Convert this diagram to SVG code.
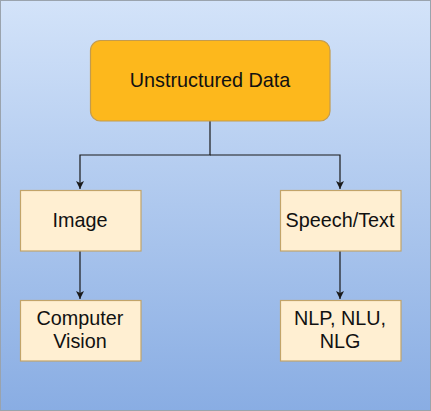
<svg xmlns="http://www.w3.org/2000/svg" width="431" height="411" viewBox="0 0 431 411">
  <defs>
    <linearGradient id="bg" x1="0" y1="0" x2="0" y2="1">
      <stop offset="0" stop-color="#d3e3f9"/>
      <stop offset="1" stop-color="#89ade3"/>
    </linearGradient>
    <marker id="arr" markerWidth="9" markerHeight="9" refX="8" refY="4.5" orient="auto" markerUnits="userSpaceOnUse">
      <path d="M0,0.5 L8,4.5 L0,8.5 L2,4.5 Z" fill="#1a1a1a"/>
    </marker>
  </defs>
  <style>
    .lbl { font-family: "Liberation Sans", Arial, sans-serif; font-size: 19.8px; fill: #111; text-anchor: middle; }
    .child { fill: #ffefd2; stroke: #c2a46a; stroke-width: 1.2; }
    .root { fill: #fdb81c; stroke: #c39b4d; stroke-width: 1.2; }
    .conn { fill: none; stroke: #1a1a1a; stroke-width: 1.2; }
  </style>
  <rect x="0.5" y="0.5" width="430" height="410" fill="url(#bg)" stroke="#9aa3ad" stroke-width="1"/>
  <g id="connectors">
    <path class="conn" d="M210,121 V155 H80 V189" marker-end="url(#arr)"/>
    <path class="conn" d="M210,155 H340 V189" marker-end="url(#arr)"/>
    <path class="conn" d="M80,251 V299" marker-end="url(#arr)"/>
    <path class="conn" d="M340,251 V299" marker-end="url(#arr)"/>
  </g>
  <g id="unstructured">
    <rect class="root" x="90.5" y="40.5" width="239.5" height="80.5" rx="10"/>
    <text class="lbl" x="210" y="87">Unstructured Data</text>
  </g>
  <g id="image">
    <rect class="child" x="20.5" y="190.5" width="120.5" height="60.5"/>
    <text class="lbl" x="80" y="227">Image</text>
  </g>
  <g id="speech">
    <rect class="child" x="280.5" y="190.5" width="120.5" height="60.5"/>
    <text class="lbl" x="340" y="227">Speech/Text</text>
  </g>
  <g id="cv">
    <rect class="child" x="20.5" y="300.5" width="120.5" height="60.5"/>
    <text class="lbl" x="80" y="325">Computer</text>
    <text class="lbl" x="80" y="348">Vision</text>
  </g>
  <g id="nlp">
    <rect class="child" x="280.5" y="300.5" width="120.5" height="60.5"/>
    <text class="lbl" x="340" y="325">NLP, NLU,</text>
    <text class="lbl" x="340" y="348">NLG</text>
  </g>
</svg>
